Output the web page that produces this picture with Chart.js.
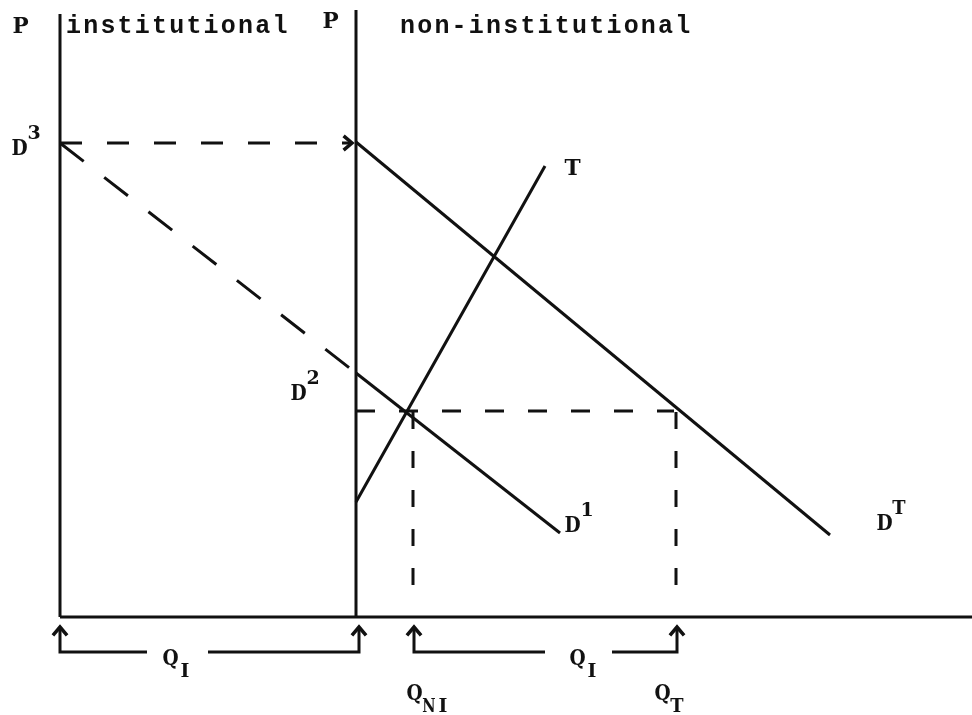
<html>
<head>
  <script src="https://cdn.jsdelivr.net/npm/chart.js@4.4.0/dist/chart.umd.min.js"></script>
  <style>body{margin:0;background:#fff}</style>
</head>
<body>
<canvas id="dg" width="972" height="715"></canvas>
<script>
  // diagram units: Q along x, P along y, origin at the institutional P axis
  var axisI   = [[0,60.3],[0,0]];
  var axisNI  = [[29.6,60.7],[29.6,0]];
  var axisQ   = [[0,0],[91.2,0]];
  var arrowD3 = [[0,47.4],[29.2,47.4]];
  var demD3   = [[0,47.4],[29.6,24.4]];
  var demD1   = [[29.6,24.4],[50,8.4]];
  var demDT   = [[29.6,47.5],[77,8.2]];
  var supT    = [[29.6,11.5],[48.5,45.1]];
  var priceEq = [[29.6,20.6],[61.4,20.6]];
  var dropNI  = [[35.3,20.5],[35.3,1.2]];
  var dropT   = [[61.6,20.5],[61.6,1.2]];
  // brackets under the Q axis
  var brI1 = [[8.7,-3.5],[0,-3.5],[0,-1]];
  var brI2 = [[14.8,-3.5],[29.9,-3.5],[29.9,-1]];
  var brN1 = [[48.5,-3.5],[35.4,-3.5],[35.4,-1]];
  var brN2 = [[55.2,-3.5],[61.7,-3.5],[61.7,-1]];

  // text, x, y, small text, sup/sub
  var labels = [
    ['P', -4.8, 58.4],
    ['institutional', 0.6, 58.4],
    ['P', 26.2, 58.9],
    ['non-institutional', 34.0, 58.4],
    ['D', -4.9, 46.2, '3', 'sup'],
    ['T', 50.4, 44.2],
    ['D', 23.0, 21.7, '2', 'sup'],
    ['D', 50.4, 8.5, '1', 'sup'],
    ['D', 81.6, 8.7, 'T', 'sup'],
    ['Q', 10.2, -4.8, 'I', 'sub'],
    ['Q', 34.6, -8.3, 'NI', 'sub'],
    ['Q', 50.9, -4.8, 'I', 'sub'],
    ['Q', 59.4, -8.3, 'T', 'sub']
  ];

  var ink = '#111';
  var serif = '"DejaVu Serif", "Liberation Serif", serif';
  var mono = '"Liberation Mono", "DejaVu Sans Mono", monospace';
  eb=s=>document.getElementById(s);
  pts=a=>a.map(p=>({x:p[0],y:p[1]}));
  function ln(a, dash, arrow){
    return {data:pts(a), showLine:true, borderColor:ink, borderWidth:3,
      pointRadius:0, borderDash:dash||[], clip:false, arrow:!!arrow,
      borderCapStyle:'butt', borderJoinStyle:'miter'};
  }
  // typewriter: one glyph per fixed cell
  function tw(ctx, s, x, y, cell){
    for(var i=0;i<s.length;i++){
      var ch=s[i], w=ctx.measureText(ch).width;
      var k=w>cell*0.95 ? cell*0.95/w : 1;
      ctx.save();
      ctx.translate(x+i*cell+cell/2, y);
      ctx.scale(k,1);
      ctx.fillText(ch, -w/2, 0);
      ctx.restore();
    }
    return s.length*cell;
  }

  var deco = {
    id:'deco',
    afterDatasetsDraw(c){
      var ctx=c.ctx, xs=c.scales.x, ys=c.scales.y;
      ctx.save();
      ctx.strokeStyle=ink; ctx.lineWidth=3.5; ctx.setLineDash([]);
      c.data.datasets.forEach((d,i)=>{
        if(!d.arrow) return;
        var el=c.getDatasetMeta(i).data, n=el.length;
        var a=el[n-1], b=el[n-2];
        var ang=Math.atan2(a.y-b.y, a.x-b.x), L=11;
        ctx.beginPath();
        ctx.moveTo(a.x-L*Math.cos(ang-0.7), a.y-L*Math.sin(ang-0.7));
        ctx.lineTo(a.x, a.y);
        ctx.lineTo(a.x-L*Math.cos(ang+0.7), a.y-L*Math.sin(ang+0.7));
        ctx.stroke();
      });
      ctx.fillStyle=ink; ctx.textBaseline='alphabetic';
      labels.forEach(l=>{
        var px=xs.getPixelForValue(l[1]), py=ys.getPixelForValue(l[2]);
        if(l[0].length>2){
          ctx.font='bold 25px '+mono;
          ctx.letterSpacing='2.2px';
          ctx.fillText(l[0], px, py);
          ctx.letterSpacing='0px';
          return;
        }
        ctx.font='bold 22px '+serif;
        var w=tw(ctx, l[0], px, py, 17);
        if(l[3]){
          ctx.font='bold 19px '+serif;
          tw(ctx, l[3], px+w-1, py+(l[4]=='sup'?-16:12), 14);
        }
      });
      ctx.restore();
    }
  };

  function dgi(){
    new Chart(eb('dg'), {
      type:'scatter',
      data:{datasets:[
        ln(axisI), ln(axisNI), ln(axisQ),
        ln(arrowD3,[22,25],true), ln(demD3,[30,26]),
        ln(demD1), ln(demDT), ln(supT),
        ln(priceEq,[19,24]), ln(dropNI,[17,22]), ln(dropT,[17,22]),
        ln(brI1,[],true), ln(brI2,[],true), ln(brN1,[],true), ln(brN2,[],true)
      ]},
      options:{
        responsive:false, animation:false,
        layout:{padding:0},
        plugins:{legend:{display:false}, tooltip:{enabled:false}},
        scales:{
          x:{type:'linear', display:false, min:-6, max:91.2},
          y:{type:'linear', display:false, min:-9.8, max:61.7}
        }
      },
      plugins:[deco]
    });
  }
  window.addEventListener('load', dgi);
</script>
</body>
</html>
